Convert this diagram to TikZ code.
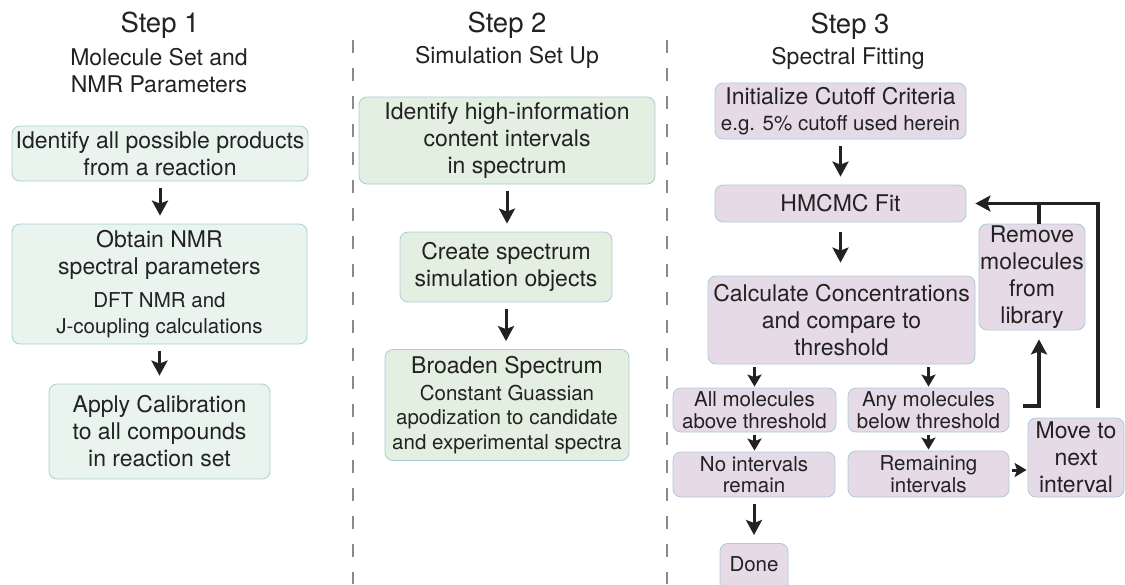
\documentclass[tikz,border=0pt]{standalone}
\usepackage{fontspec}
\setmainfont{TeX Gyre Heros}
\usepackage{xcolor}
\usepackage{tikz}
\usetikzlibrary{arrows.meta}

\definecolor{boxline}{HTML}{A9CDD8}
\definecolor{fillone}{HTML}{EAF4EF}
\definecolor{filltwo}{HTML}{E3EFE0}
\definecolor{fillthree}{HTML}{E5DAE6}
\definecolor{ink}{HTML}{222222}
\definecolor{sepgray}{HTML}{8A8A8A}
\newcommand{\bigtxt}{\fontsize{23}{27}\selectfont}
\newcommand{\smalltxt}{\fontsize{20.5}{24.5}\selectfont}
\newcommand{\steptxt}{\fontsize{27.5}{32}\selectfont}

\begin{document}
\begin{tikzpicture}[x=1pt, y=-1pt,
  task/.style={rectangle,draw=boxline,line width=0.8pt,rounded corners=8pt,align=center,inner sep=0pt,text=ink,font=\bigtxt},
  one/.style={task,fill=fillone},
  two/.style={task,fill=filltwo},
  three/.style={task,fill=fillthree},
  head/.style={align=center,text=ink,inner sep=0pt},
  flow/.style={-{Stealth[length=15pt,width=16pt,inset=3pt]},line width=3pt,draw=ink,shorten <=7pt,shorten >=8pt},
  stub/.style={-{Stealth[length=12pt,width=14pt,inset=2.5pt]},line width=3pt,draw=ink,shorten <=3pt,shorten >=1pt},
  loop/.style={-{Stealth[length=15pt,width=16pt,inset=3pt]},line width=3.2pt,draw=ink},
  sep/.style={draw=sepgray,line width=2pt,dash pattern=on 13pt off 15pt}
]
\clip (0,0) rectangle (1125,584);

\node[head,font=\steptxt] (s1) at (160,25) {Step 1};
\node[head,font=\bigtxt] (s1sub) at (159,71) {Molecule Set and\\NMR Parameters};
\node[head,font=\steptxt] (s2) at (507,25) {Step 2};
\node[head,font=\bigtxt] (s2sub) at (507,57) {Simulation Set Up};
\node[head,font=\steptxt] (s3) at (850,26) {Step 3};
\node[head,font=\bigtxt] (s3sub) at (848,58) {Spectral Fitting};

\draw[sep] (353,40) -- (353,584);
\draw[sep] (667,40) -- (667,584);

\node[one,minimum width=296,minimum height=55] (ident) at (160,153.5) {Identify all possible products\\from a reaction};
\node[one,minimum width=295,minimum height=120] (params) at (159.5,284) {Obtain NMR\\spectral parameters\\[6pt]\smalltxt DFT NMR and\\[-1pt]\smalltxt J-coupling calculations};
\node[one,minimum width=221,minimum height=95] (calib) at (159.5,431.5) {Apply Calibration\\to all compounds\\in reaction set};

\node[two,minimum width=296,minimum height=87] (intervals) at (507,140.5) {Identify high-information\\content intervals\\in spectrum};
\node[two,minimum width=212,minimum height=70] (simobj) at (506,267) {Create spectrum\\simulation objects};
\node[two,minimum width=244,minimum height=111] (broaden) at (507,405) {Broaden Spectrum\\[0pt]\smalltxt Constant Guassian\\[-3pt]\smalltxt apodization to candidate\\[-2pt]\smalltxt and experimental spectra};

\node[three,minimum width=251,minimum height=56] (cutoff) at (840.5,111) {Initialize Cutoff Criteria\\[-1pt]\smalltxt e.g. 5\% cutoff used herein};
\node[three,minimum width=251,minimum height=37] (hmcmc) at (840.5,203.5) {HMCMC Fit};
\node[three,minimum width=267,minimum height=88] (calc) at (841.5,320) {Calculate Concentrations\\and compare to\\threshold};
\node[three,minimum width=106,minimum height=106] (remove) at (1032,277) {Remove\\molecules\\from\\library};
\node[three,font=\smalltxt,minimum width=163,minimum height=44] (above) at (754.5,410) {All molecules\\[-3pt]above threshold};
\node[three,font=\smalltxt,minimum width=161,minimum height=44] (below) at (928.5,410) {Any molecules\\[-3pt]below threshold};
\node[three,font=\smalltxt,minimum width=162,minimum height=45] (nointv) at (754,474.5) {No intervals\\[-3pt]remain};
\node[three,font=\smalltxt,minimum width=161,minimum height=46] (remain) at (928.5,474) {Remaining\\[-3pt]intervals};
\node[three,minimum width=96,minimum height=79] (nextint) at (1076,457.5) {Move to\\next\\interval};
\node[three,font=\smalltxt,anchor=north,minimum width=68,text height=28pt,text depth=30pt] (done) at (754,543) {Done};

\draw[flow] (ident.south) -- (ident.south |- params.north);
\draw[flow] (params.south) -- (params.south |- calib.north);
\draw[flow] (intervals.south) -- (intervals.south |- simobj.north);
\draw[flow] (simobj.south) -- (simobj.south |- broaden.north);
\draw[flow] (cutoff.south) -- (hmcmc.north);
\draw[flow,shorten <=10pt,shorten >=13pt] (hmcmc.south) -- (hmcmc.south |- calc.north);
\draw[stub] (above.north |- calc.south) -- (above.north);
\draw[stub] (below.north |- calc.south) -- (below.north);
\draw[stub] (above.south) -- (above.south |- nointv.north);
\draw[stub] (below.south) -- (below.south |- remain.north);
\draw[flow] (nointv.south) -- (nointv.south |- done.north);
\draw[stub] ([yshift=4pt]remain.east) -- ([yshift=4pt]remain.east -| nextint.west);
\draw[loop,shorten <=10pt,shorten >=9pt] ([xshift=22pt]nextint.north) |- (hmcmc.east);
\draw[line width=3.2pt,draw=ink] ([xshift=7pt]remove.north) -- ([xshift=7pt]remove.north |- hmcmc.east);
\draw[loop,shorten >=9pt] ([xshift=14pt,yshift=4pt]below.east) -| ([xshift=7pt]remove.south);

\end{tikzpicture}
\end{document}
